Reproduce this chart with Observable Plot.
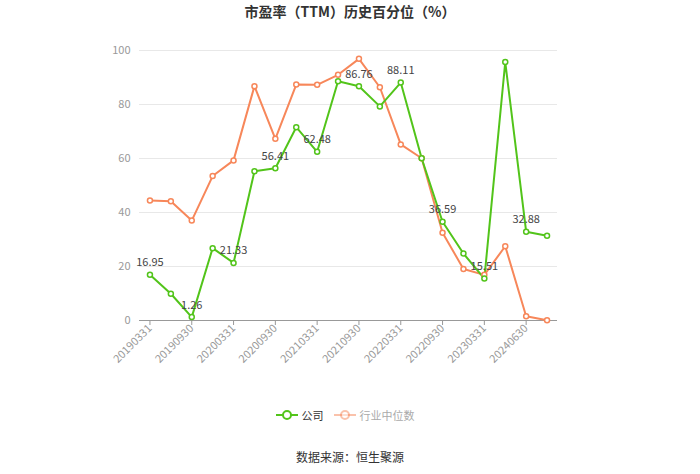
<!DOCTYPE html>
<html>
<head>
<meta charset="utf-8">
<script src="https://cdn.jsdelivr.net/npm/d3@7"></script>
<script src="https://cdn.jsdelivr.net/npm/@observablehq/plot@0.6"></script>
<style>
  html, body { margin: 0; padding: 0; background: #fff; }
  body { font-family: "Noto Sans CJK SC", "Noto Sans", sans-serif; }
  #wrap { position: relative; width: 700px; height: 474px; overflow: hidden; }
  #title { position: absolute; top: 1px; left: 0; width: 700px; text-align: center; font-size: 14px; font-weight: bold; color: #333; }
  #legend { position: absolute; top: 407px; left: 0; width: 690px; display: flex; justify-content: center; gap: 10px; font-size: 11px; color: #333; }
  #legend .item { display: flex; align-items: center; gap: 4px; }
  #source { position: absolute; top: 448px; left: 0; width: 700px; text-align: center; font-size: 12px; color: #333; }
  #chart { position: absolute; top: 0; left: 0; }
</style>
</head>
<body>
<div id="wrap">
  <div id="chart"></div>
  <div id="title">市盈率（TTM）历史百分位（%）</div>
  <div id="legend"></div>
  <div id="source">数据来源：恒生聚源</div>
</div>
<script>
const dates = ["20190331","20190630","20190930","20191231","20200331","20200630","20200930","20201231",
  "20210331","20210630","20210930","20211231","20220331","20220630","20220930","20221231",
  "20230331","20231231","20240630","20240930"];
const company = [16.95, 9.9, 1.26, 26.8, 21.33, 55.3, 56.41, 71.6, 62.48, 88.6, 86.76, 79.3, 88.11, 60.1, 36.59, 24.8, 15.51, 95.7, 32.88, 31.4];
const industry = [44.4, 44.2, 37.0, 53.5, 59.3, 86.8, 67.3, 87.4, 87.3, 91.0, 96.9, 86.4, 65.2, 60.1, 32.5, 19.1, 16.9, 27.5, 1.6, 0.1];
const yTicks = [0, 20, 40, 60, 80, 100];
const xTickLabels = dates.filter((d, i) => i % 2 === 0);
const seriesNames = ["公司", "行业中位数"];
const colors = ["#52c41a", "#f7875a"];

const rows = [];
dates.forEach((d, i) => {
  rows.push({date: d, value: company[i], series: seriesNames[0], i});
  rows.push({date: d, value: industry[i], series: seriesNames[1], i});
});
const companyRows = rows.filter(r => r.series === seriesNames[0]);
const industryRows = rows.filter(r => r.series === seriesNames[1]);
const labelRows = companyRows.filter(r => r.i % 2 === 0);

const chart = Plot.plot({
  width: 700,
  height: 474,
  marginTop: 50,
  marginBottom: 154,
  marginLeft: 139,
  marginRight: 143,
  style: {fontFamily: "'Noto Sans CJK SC', 'Noto Sans', sans-serif", fontSize: "11px", background: "transparent"},
  x: {type: "point", domain: dates, padding: 0.5, round: false, label: null},
  y: {domain: [0, 100], label: null},
  color: {domain: seriesNames, range: colors},
  marks: [
    Plot.gridY(yTicks, {stroke: "#e8e8e8", strokeOpacity: 1}),
    Plot.axisY(yTicks, {tickSize: 0, tickPadding: 9, fill: "#999", fontSize: 11, label: null}),
    Plot.ruleY([0], {stroke: "#999"}),
    Plot.axisX(xTickLabels, {tickSize: 5, stroke: "#999", tickFormat: () => "", label: null}),
    Plot.axisX(xTickLabels, {tickSize: 0, tickPadding: 6, tickRotate: -45, fill: "#999", fontSize: 11, label: null}),
    Plot.line(industryRows, {x: "date", y: "value", stroke: colors[1], strokeWidth: 2}),
    Plot.line(companyRows, {x: "date", y: "value", stroke: colors[0], strokeWidth: 2}),
    Plot.dot(industryRows, {x: "date", y: "value", r: 2.5, stroke: colors[1], fill: "#fff", strokeWidth: 1.5}),
    Plot.dot(companyRows, {x: "date", y: "value", r: 2.5, stroke: colors[0], fill: "#fff", strokeWidth: 1.5}),
    Plot.text(labelRows, {x: "date", y: "value", text: d => d.value.toFixed(2), dy: -12, fill: "#444", fontSize: 11})
  ]
});
document.getElementById("chart").appendChild(chart);

const legend = document.getElementById("legend");
seriesNames.forEach((name, k) => {
  const item = document.createElement("div");
  item.className = "item";
  const faded = k === 1;
  item.innerHTML = `<svg width="22" height="12"><line x1="0" y1="6" x2="22" y2="6" stroke="${colors[k]}" stroke-width="2" opacity="${faded ? 0.5 : 1}"/><circle cx="11" cy="6" r="4" fill="#fff" stroke="${colors[k]}" stroke-width="2" opacity="${faded ? 0.5 : 1}"/></svg><span style="color:${faded ? '#aaa' : '#333'}">${name}</span>`;
  legend.appendChild(item);
});
</script>
</body>
</html>
